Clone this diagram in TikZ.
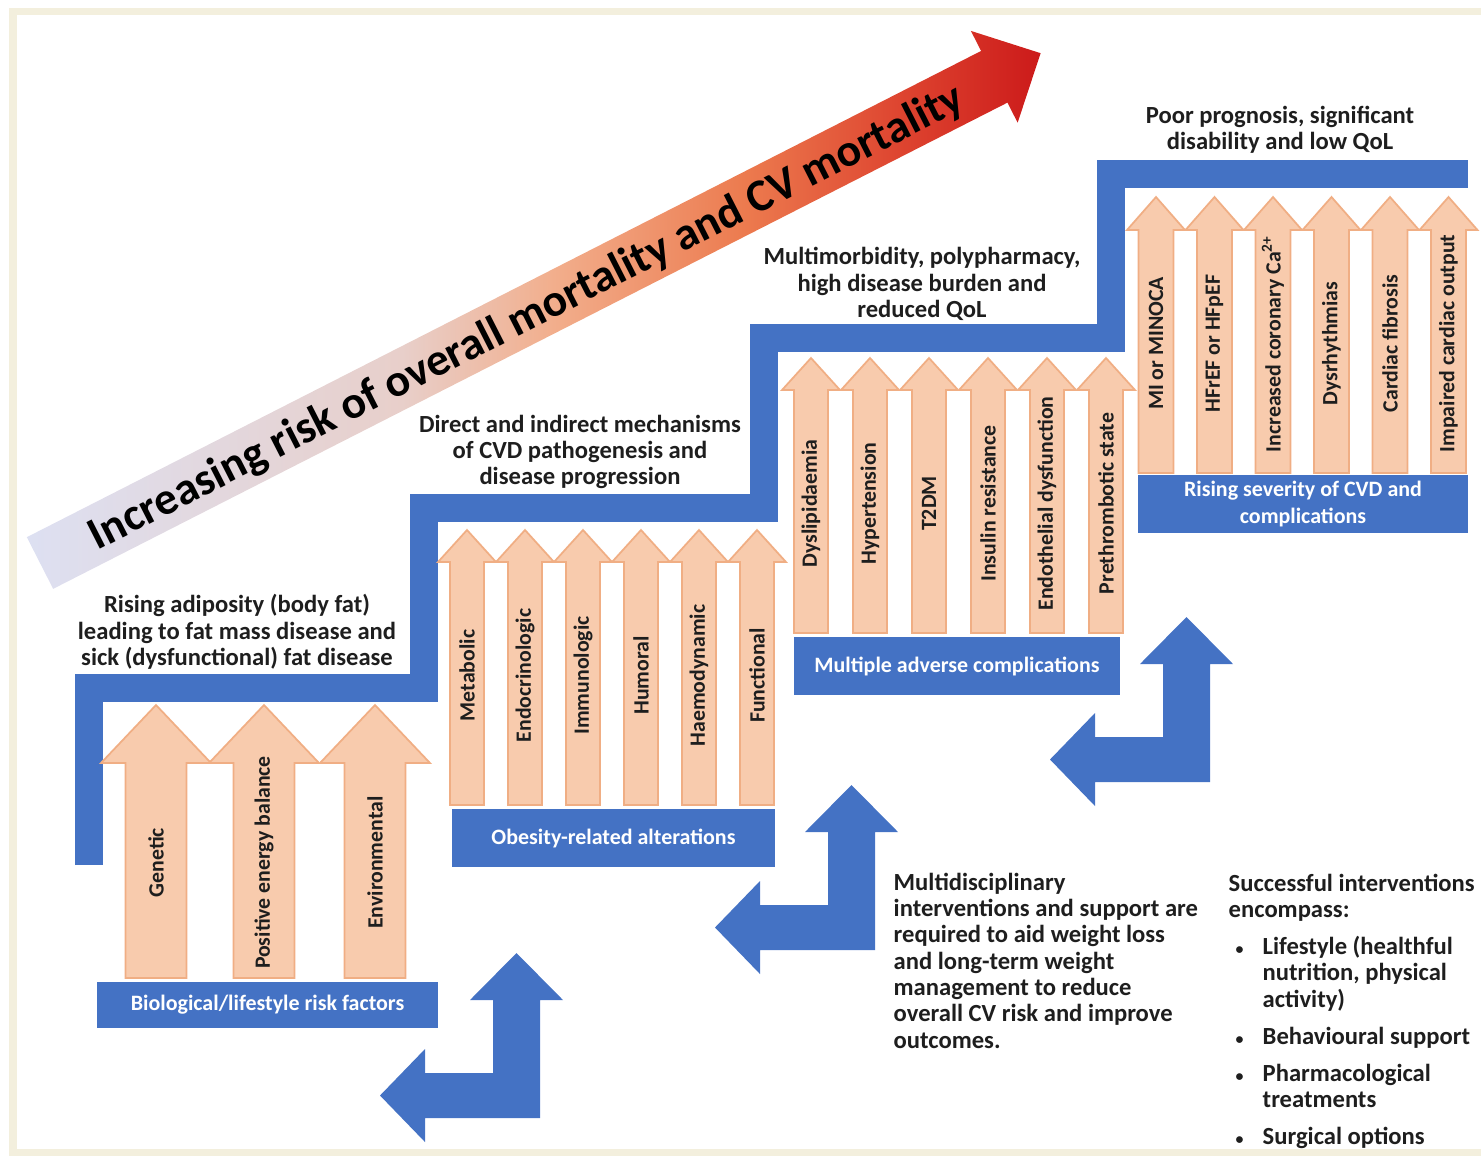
\documentclass[tikz,border=0pt]{standalone}
\usepackage{fontspec}
\setmainfont{Carlito}
\usetikzlibrary{positioning}

\definecolor{stairblue}{HTML}{4472C4}
\definecolor{riskfill}{HTML}{F8CBAD}
\definecolor{riskline}{HTML}{F0AE84}
\definecolor{inktext}{HTML}{1E1E1E}
\definecolor{framecream}{HTML}{F3EFDD}
\definecolor{lowrisk}{HTML}{DDE0F2}
\definecolor{paleRisk}{HTML}{E8CFCA}
\definecolor{salmonrisk}{HTML}{F2AE8C}
\definecolor{orangerisk}{HTML}{EC7A4E}
\definecolor{redorange}{HTML}{DE4530}
\definecolor{highrisk}{HTML}{CC1A1A}

\pgfdeclarehorizontalshading{riskshade}{100bp}{color(0bp)=(lowrisk); color(25bp)=(lowrisk);
    color(43.5bp)=(paleRisk); color(51bp)=(salmonrisk); color(60.5bp)=(orangerisk);
    color(68bp)=(redorange); color(75bp)=(highrisk); color(100bp)=(highrisk)}

\tikzset{
    stair/.style={draw=stairblue, line width=0.28cm},
    riskarrow/.style={fill=riskfill, draw=riskline, line width=0.5pt},
    risklabel/.style={rotate=90, inner sep=0pt, text=inktext, font=\fontsize{6.2}{7}\selectfont\bfseries},
    stagebox/.style={fill=stairblue, text=white, align=center, inner sep=0pt, font=\fontsize{6.25}{7.4}\selectfont\bfseries},
    steptext/.style={align=center, inner sep=0pt, text=inktext, font=\fontsize{7}{7.5}\selectfont\bfseries},
    notetext/.style={align=left, inner sep=0pt, text=inktext, font=\fontsize{7}{7.5}\selectfont\bfseries},
    bendarrow/.style={fill=stairblue},
    bigtitle/.style={inner sep=0pt, text=black, font=\fontsize{13}{15}\selectfont\bfseries}
}

\newcommand{\riskarrow}[8]{%
    \draw[riskarrow] ({#2-#6},#5) -- ({#2-#6},#4) -- ({#2-#7},#4) -- (#2,#3)
        -- ({#2+#7},#4) -- ({#2+#6},#4) -- ({#2+#6},#5) -- cycle;
    \node[risklabel] (#1) at (#2,{(#4+#5)/2-8}) {#8};}

\newcommand{\bendarrow}[1]{%
    \fill[bendarrow, shift={#1}] (-23.5,-165) -- (23,-118) -- (0,-118) -- (0,0) -- (-115,0)
        -- (-115,24) -- (-160,-22.5) -- (-115,-69) -- (-115,-45) -- (-47,-45)
        -- (-47,-118) -- (-70,-118) -- cycle;}

\newcommand{\dotmark}{\hspace{0.07cm}{\fontsize{4.5}{4.5}\selectfont\textbullet}}

\begin{document}
\begin{tikzpicture}[x=0.01cm, y=-0.01cm]
    \useasboundingbox (0,0) rectangle (1481,1156);
    \clip (0,0) rectangle (1481,1156);
    \draw[framecream, line width=0.07cm] (13,11) rectangle (1500,1152);

    % rising risk
    \begin{scope}[shift={(40,563)}, rotate=27]
        \shade[shading=riskshade]
            (0,-29) -- (1071,-29) -- (1071,-51.5) -- (1123,0) -- (1071,51.5) -- (1071,29) -- (0,29) -- cycle;
        \node[bigtitle, transform shape] (risk) at (545,3) {Increasing risk of overall mortality and CV mortality};
    \end{scope}

    % staircase
    \draw[stair] (89,865) -- (89,688) -- (424,688) -- (424,508) -- (764,508)
        -- (764,338) -- (1111,338) -- (1111,174) -- (1468,174);

    \node[steptext] (adiposity) at (237,632) {Rising adiposity (body fat)\\leading to fat mass disease and\\sick (dysfunctional) fat disease};
    \node[steptext] (mechanisms) at (580,452) {Direct and indirect mechanisms\\of CVD pathogenesis and\\disease progression};
    \node[steptext] (burden) at (922,284) {Multimorbidity, polypharmacy,\\high disease burden and\\reduced QoL};
    \node[steptext] (prognosis) at (1280,130) {Poor prognosis, significant\\disability and low QoL};

    % stage 1
    \riskarrow{genetic}{156}{705}{763}{978}{30.5}{55}{Genetic}
    \riskarrow{energy}{264}{705}{763}{978}{30.5}{55}{Positive energy balance}
    \riskarrow{environ}{375}{705}{763}{978}{30.5}{55}{Environmental}
    \node[stagebox, minimum width=3.41cm, minimum height=0.46cm] (factors) at (267.5,1005) {Biological/lifestyle risk factors};

    % stage 2
    \riskarrow{metabolic}{467}{530}{562}{805}{17}{29}{Metabolic}
    \riskarrow{endocrine}{525}{530}{562}{805}{17}{29}{Endocrinologic}
    \riskarrow{immune}{583}{530}{562}{805}{17}{29}{Immunologic}
    \riskarrow{humoral}{641}{530}{562}{805}{17}{29}{Humoral}
    \riskarrow{haemo}{699}{530}{562}{805}{17}{29}{Haemodynamic}
    \riskarrow{functional}{757}{530}{562}{805}{17}{29}{Functional}
    \node[stagebox, minimum width=3.23cm, minimum height=0.58cm] (alterations) at (613.5,838) {Obesity-related alterations};

    % stage 3
    \riskarrow{lipid}{811}{358}{390}{633}{17}{29}{Dyslipidaemia}
    \riskarrow{tension}{870}{358}{390}{633}{17}{29}{Hypertension}
    \riskarrow{diabetes}{929}{358}{390}{633}{17}{29}{T2DM}
    \riskarrow{insulin}{988}{358}{390}{633}{17}{29}{Insulin resistance}
    \riskarrow{endothel}{1047}{358}{390}{633}{17}{29}{Endothelial dysfunction}
    \riskarrow{thrombo}{1106}{358}{390}{633}{17}{29}{Prethrombotic state}
    \node[stagebox, minimum width=3.25cm, minimum height=0.58cm] (complications) at (957,666) {Multiple adverse complications};

    % stage 4
    \riskarrow{infarct}{1156}{197}{230}{473}{17.5}{29}{MI or MINOCA}
    \riskarrow{failure}{1214.5}{197}{230}{473}{17.5}{29}{HFrEF or HFpEF}
    \riskarrow{calcium}{1273}{197}{230}{473}{17.5}{29}{Increased coronary Ca\textsuperscript{2+}}
    \riskarrow{rhythm}{1331.5}{197}{230}{473}{17.5}{29}{Dysrhythmias}
    \riskarrow{fibrosis}{1390}{197}{230}{473}{17.5}{29}{Cardiac fibrosis}
    \riskarrow{output}{1448.5}{197}{230}{473}{17.5}{29}{Impaired cardiac output}
    \node[stagebox, minimum width=3.30cm, minimum height=0.58cm] (severity) at (1303,504) {Rising severity of CVD and\\complications};

    % interventions
    \bendarrow{(540,1118)}
    \bendarrow{(875,950)}
    \bendarrow{(1210,782)}

    \node[notetext, anchor=north west] (support) at (893,872) {Multidisciplinary\\interventions and support are\\required to aid weight loss\\and long-term weight\\management to reduce\\overall CV risk and improve\\outcomes.};
    \node[notetext, anchor=north west] (options) at (1228,872) {\begin{tabular}{@{}p{0.34cm}@{}l@{}}
        \multicolumn{2}{@{}l@{}}{Successful interventions}\\
        \multicolumn{2}{@{}l@{}}{encompass:}\\[3pt]
        \dotmark & Lifestyle (healthful\\
         & nutrition, physical\\
         & activity)\\[3pt]
        \dotmark & Behavioural support\\[3pt]
        \dotmark & Pharmacological\\
         & treatments\\[3pt]
        \dotmark & Surgical options
    \end{tabular}};
\end{tikzpicture}
\end{document}
